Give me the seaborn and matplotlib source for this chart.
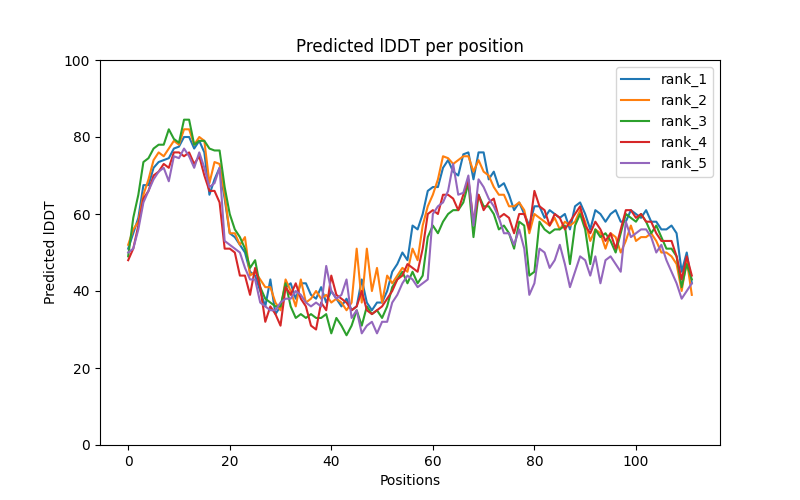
import numpy as np
import pandas as pd
import seaborn as sns
import matplotlib
matplotlib.use("Agg")
import matplotlib.pyplot as plt

rank_1 = [51, 55, 59, 67.5, 67.5, 72, 73.5, 74, 74.5, 77, 77.5, 80, 80, 77, 79, 76, 65, 69, 72, 64,
          55, 54, 52, 50, 45, 44, 40, 36, 43, 34, 36, 41, 42, 38, 42, 42, 39, 38, 41, 37,
          40, 38, 36, 38, 35, 36, 43, 37, 35, 37, 37, 40, 45, 47, 50, 48, 57, 56, 60, 66,
          67, 67, 72, 74, 71, 70, 75.5, 76, 69, 76, 76, 69, 71, 67, 68, 65, 61, 63, 60, 57,
          62, 62, 59, 61, 60, 59, 60, 56, 62, 63, 60, 56, 61, 60, 58, 60, 61, 58, 58, 61,
          60, 59, 61, 58, 58, 56, 56, 57, 55, 45, 50, 42]
rank_2 = [52, 56, 58, 65, 69, 74, 76, 75, 77, 79, 78, 82, 82, 78, 80, 79, 68, 73.5, 73, 65,
          55, 55, 52, 54, 44, 45, 43, 41, 41, 37, 35, 43, 40, 36, 43, 37, 38, 40, 38, 39,
          37, 38, 37, 35, 37, 51, 37, 51, 40, 46, 37, 44, 42, 44, 46, 45, 51, 48, 57, 62,
          65, 69, 75, 74.5, 73, 74, 75, 75, 71, 74, 71, 70, 67, 65, 65, 62, 62, 63, 61, 55,
          60, 59, 58, 57, 59, 56, 58, 57, 58, 61, 58, 53, 56, 55, 51, 55, 54, 50, 53, 57,
          53, 54, 54, 55, 53, 50, 50, 49, 47, 40, 48, 39]
rank_3 = [49, 59, 65, 73.5, 74.5, 77, 78, 78, 82, 79.5, 78.5, 84.5, 84.5, 78, 79, 79, 77, 76.5, 76.5, 67,
          60, 56, 54, 51, 46, 48, 41, 38, 37, 36, 36, 42, 36, 33, 34, 33, 34, 33, 33, 34,
          29, 33, 31, 28.5, 31, 35, 31, 36, 34, 35, 33, 36, 41, 43, 45, 42, 45, 42, 44, 54,
          57, 55, 58, 60, 61, 61, 63, 68, 54, 65, 62, 62, 60, 56, 57, 55, 51, 58, 57, 44,
          45, 58, 56, 55, 56, 56, 57, 47, 57, 60, 56, 47, 56, 54, 55, 53, 50, 55, 60, 59,
          58, 60, 58, 55, 57, 54, 51, 51, 49, 41, 47, 43]
rank_4 = [48, 51, 57, 64, 66, 70, 71, 73, 72, 76, 76, 75, 76, 73, 75, 70, 66, 66, 63, 51,
          51, 50, 44, 44, 39, 46, 41, 32, 36, 34, 31, 41, 39, 42, 38, 36, 31, 30, 37, 35,
          44, 39, 38, 37, 35, 36, 40, 35, 34, 35, 36, 38, 40, 43, 44, 47, 46, 45, 51, 60,
          61, 60, 65, 65, 64, 61, 65, 69, 58, 65, 61, 63, 64, 59, 60, 59, 55, 60, 60, 56,
          66, 62, 61, 57, 60, 59, 56, 58, 60, 62, 57, 55, 58, 56, 53, 55, 51, 56, 61, 61,
          59, 60, 58, 58, 55, 53, 53, 53, 49, 43, 49, 44]
rank_5 = [50, 51, 56, 63, 66, 69, 71, 72, 68.5, 75, 74.5, 77, 75, 72, 76, 72, 67, 68, 72, 53,
          52, 51, 50, 46, 43, 43, 37, 36, 35, 35, 37, 38, 38, 40, 39, 37, 36, 37, 36, 46.5,
          40, 38, 39, 43, 33, 35, 29, 31, 32, 29, 32, 32, 37, 39, 42, 44, 43, 41, 42, 43,
          60, 62, 63, 66, 73, 65, 65.5, 70, 57, 69, 67, 64, 62, 59, 55, 55, 52, 56, 51, 39,
          42, 51, 50, 46, 48, 52, 47, 41, 45, 49, 48, 44, 49, 42, 48, 49, 47, 45, 58, 54,
          55, 56, 56, 54, 50, 52, 48, 45, 42, 38, 40, 42]

ranks = ["rank_1", "rank_2", "rank_3", "rank_4", "rank_5"]
series = [rank_1, rank_2, rank_3, rank_4, rank_5]

rows = []
for name, vals in zip(ranks, series):
    for pos, v in enumerate(vals):
        rows.append({"Positions": pos, "plddt": v, "rank": name})
df = pd.DataFrame(rows)

fig, ax = plt.subplots(figsize=(8, 5), dpi=100)
sns.lineplot(data=df, x="Positions", y="plddt", hue="rank", palette="tab10",
             linewidth=1.5, ax=ax)
ax.set_ylim(0, 100)
ax.set_title("Predicted lDDT per position")
ax.set_xlabel("Positions")
ax.set_ylabel("Predicted lDDT")
ax.legend(title=None, loc="upper right")
fig.savefig("out.png", dpi=100)
